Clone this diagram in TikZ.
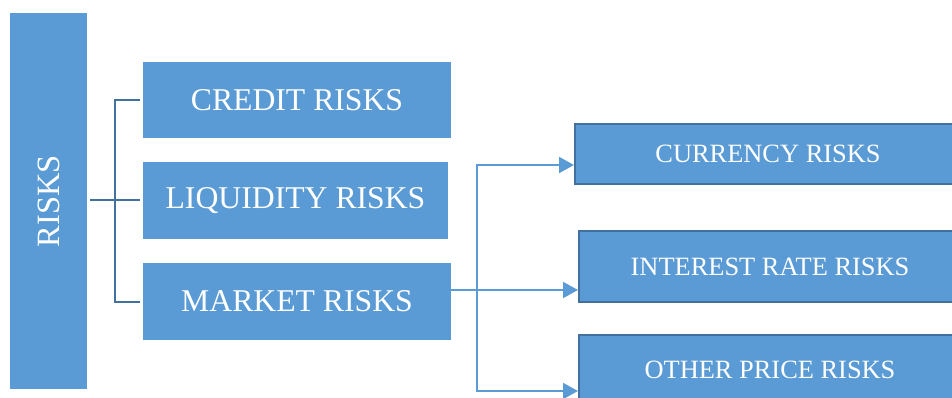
\documentclass[tikz,border=0pt]{standalone}
\usepackage{fontspec}
\setmainfont{Liberation Serif}
\usepackage{graphicx}
\usetikzlibrary{arrows.meta}
\definecolor{boxblue}{HTML}{5B9BD5}
\definecolor{edgeblue}{HTML}{41719C}
\tikzset{
  riskbox/.style={fill=boxblue, inner sep=0pt, text=white, font=\fontsize{31.7}{34}\selectfont},
  subbox/.style={fill=boxblue, draw=edgeblue, line width=2pt, inner sep=0pt, text=white, font=\fontsize{26.4}{29}\selectfont},
  bracket/.style={draw=edgeblue, line width=2pt},
  feed/.style={draw=boxblue, line width=2pt, -{Triangle[length=15pt,width=16pt]}}
}
\begin{document}
\begin{tikzpicture}[x=1pt, y=-1pt]
\useasboundingbox (0,0) rectangle (952,398);

% Main box
\node[riskbox, minimum width=77pt, minimum height=376pt, font=\fontsize{32.5}{35}\selectfont] (risks) at (48.5,201) {\rotatebox{90}{RISKS}};

% Risk groups
\node[riskbox, minimum width=308pt, minimum height=76pt] (credit) at (297,100) {CREDIT RISKS};
\node[riskbox, minimum width=305pt, minimum height=77pt] (liquidity) at (295.5,200.5) {LIQUIDITY RISKS};
\node[riskbox, minimum width=308pt, minimum height=77pt] (market) at (297,301.5) {MARKET RISKS};

% Market risk parts
\node[subbox, minimum width=386pt, minimum height=60pt] (currency) at (768,154) {CURRENCY RISKS};
\node[subbox, minimum width=382pt, minimum height=71pt] (interest) at (770,266.5) {INTEREST RATE RISKS};
\node[subbox, minimum width=382pt, minimum height=70pt] (other) at (770,370) {OTHER PRICE RISKS};

% Bracket
\coordinate (fork) at (115,200);
\draw[bracket, shorten <=3pt] (risks.east |- fork) -- (fork);
\draw[bracket, shorten <=3pt, shorten >=3pt] (credit.west) -| (fork) |- (market.west);
\draw[bracket, shorten <=3pt] (liquidity.west |- fork) -- (fork);

% Arrows
\coordinate (bus) at (477,290);
\draw[boxblue, line width=2pt] (market.east |- bus) -- (bus);
\draw[feed] (bus) |- (currency.west |- 0,165);
\draw[feed] (bus) -- (interest.west |- bus);
\draw[feed] (bus) |- (other.west |- 0,391);
\end{tikzpicture}
\end{document}
